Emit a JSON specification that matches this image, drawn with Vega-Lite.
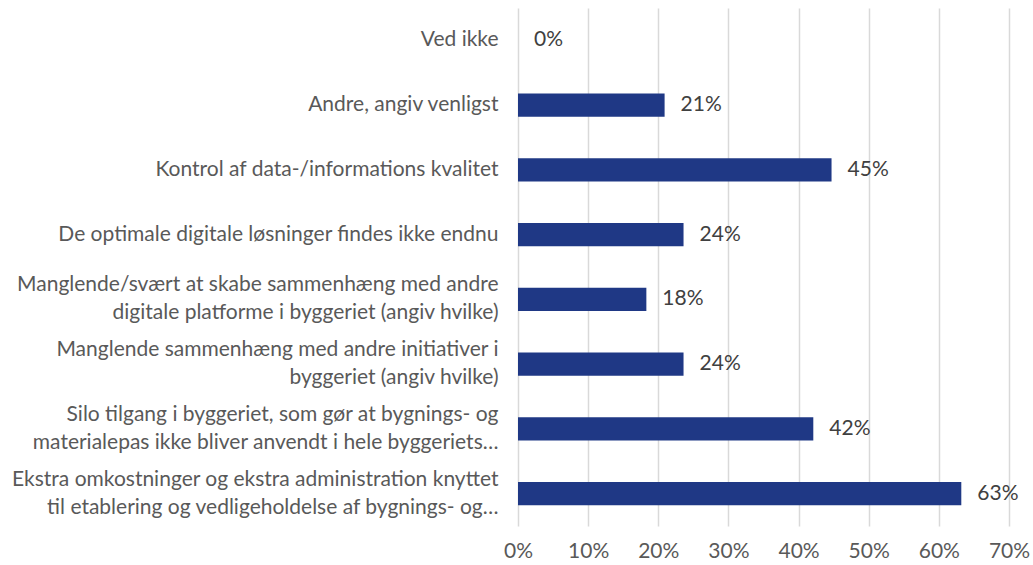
{
  "$schema": "https://vega.github.io/schema/vega-lite/v6.json",
  "autosize": "none",
  "padding": {"left": 518, "top": 8, "right": 24, "bottom": 39},
  "width": 491,
  "height": 518,
  "background": "white",
  "config": {
    "view": {"stroke": null},
    "font": "Lato"
  },
  "data": {
    "values": [
      {"label": "Ved ikke", "value": 0.0},
      {"label": "Andre, angiv venligst", "value": 0.209},
      {"label": "Kontrol af data-/informations kvalitet", "value": 0.447},
      {"label": "De optimale digitale løsninger findes ikke endnu", "value": 0.236},
      {"label": "Manglende/svært at skabe sammenhæng med andre|digitale platforme i byggeriet (angiv hvilke)", "value": 0.183},
      {"label": "Manglende sammenhæng med andre initiativer i|byggeriet (angiv hvilke)", "value": 0.236},
      {"label": "Silo tilgang i byggeriet, som gør at bygnings- og|materialepas ikke bliver anvendt i hele byggeriets…", "value": 0.421},
      {"label": "Ekstra omkostninger og ekstra administration knyttet|til etablering og vedligeholdelse af bygnings- og…", "value": 0.632}
    ]
  },
  "encoding": {
    "y": {
      "field": "label",
      "type": "nominal",
      "sort": null,
      "scale": {"paddingInner": 0.64, "paddingOuter": 0.32},
      "axis": {
        "title": null,
        "domain": false,
        "ticks": false,
        "labelPadding": 20,
        "labelFontSize": 21,
        "labelColor": "#595959",
        "labelLineHeight": 28,
        "labelLimit": 600,
        "labelOffset": {"condition": {"test": "indexof(datum.value, '|') >= 0", "value": -14}, "value": 0},
        "labelExpr": "split(datum.label, '|')"
      }
    },
    "x": {
      "field": "value",
      "type": "quantitative",
      "scale": {"domain": [0, 0.7], "nice": false},
      "axis": {
        "title": null,
        "format": ".0%",
        "values": [0, 0.1, 0.2, 0.3, 0.4, 0.5, 0.6, 0.7],
        "domain": false,
        "ticks": false,
        "grid": true,
        "gridColor": "#d9d9d9",
        "gridWidth": 1.5,
        "labelFlush": false,
        "labelPadding": 14,
        "labelFontSize": 21,
        "labelColor": "#595959"
      }
    }
  },
  "layer": [
    {
      "mark": {"type": "bar", "color": "#1f3885"}
    },
    {
      "mark": {"type": "text", "align": "left", "dx": 16, "fontSize": 21, "color": "#404040"},
      "encoding": {
        "text": {"field": "value", "type": "quantitative", "format": ".0%"}
      }
    }
  ]
}
